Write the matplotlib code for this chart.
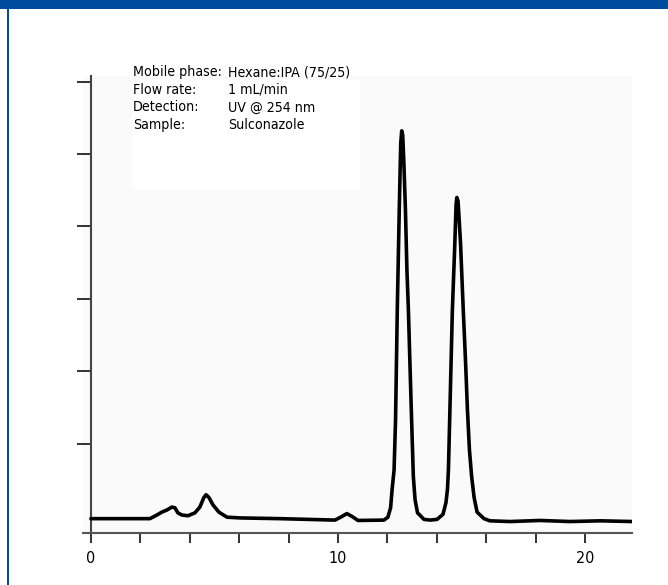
import matplotlib
matplotlib.use('Agg')
import matplotlib.pyplot as plt
from matplotlib.patches import Rectangle

# chromatogram trace (time in min, signal in tick units)
time_min = [0.00, 1.00, 1.98, 2.39, 2.67, 2.87, 3.08, 3.28, 3.40, 3.52,
            3.68, 3.93, 4.21, 4.41, 4.57, 4.66, 4.78, 4.94, 5.18, 5.51,
            6.03, 7.65, 9.88, 10.16, 10.36, 10.57, 10.81,
            11.86, 12.02, 12.13, 12.19, 12.27, 12.33, 12.40, 12.48, 12.54, 12.58,
            12.62, 12.67, 12.73, 12.79, 12.85, 12.92, 12.98, 13.05, 13.12, 13.22,
            13.48, 13.73,
            14.01, 14.25, 14.37, 14.43, 14.47, 14.53, 14.63, 14.72, 14.78, 14.81,
            14.86, 14.96, 15.07, 15.16, 15.24, 15.32, 15.41, 15.51, 15.63, 15.91,
            16.15, 16.96, 18.18, 19.39, 20.61, 21.94]
signal = [-0.03, -0.03, -0.03, -0.03, 0.02, 0.06, 0.09, 0.13, 0.12, 0.05,
          0.02, 0.01, 0.05, 0.13, 0.26, 0.30, 0.26, 0.16, 0.06, -0.01,
          -0.02, -0.03, -0.05, 0.00, 0.04, 0.00, -0.055,
          -0.05, -0.01, 0.12, 0.37, 0.64, 1.33, 2.85, 4.23, 5.15, 5.32,
          5.26, 4.85, 4.23, 3.40, 2.85, 2.02, 1.33, 0.55, 0.23, 0.05,
          -0.04, -0.05,
          -0.04, 0.03, 0.19, 0.37, 0.64, 1.47, 2.85, 3.68, 4.30, 4.40,
          4.35, 3.77, 2.85, 2.16, 1.47, 0.92, 0.55, 0.26, 0.06, -0.03,
          -0.06, -0.07, -0.055, -0.07, -0.06, -0.07]

x_ticks = [0, 2, 4, 6, 8, 10, 12, 14, 16, 18, 20]
x_labels = ['0', '', '', '', '', '10', '', '', '', '', '20']
y_ticks = [1, 2, 3, 4, 5, 6]

info_keys = ['Mobile phase:', 'Flow rate:', 'Detection:', 'Sample:']
info_vals = ['Hexane:IPA (75/25)', '1 mL/min', 'UV @ 254 nm', 'Sulconazole']

font = dict(family='DejaVu Sans', stretch='condensed')
blue = '#004b9b'
W, H = 668, 585

fig = plt.figure(figsize=(W / 100, H / 100), dpi=100)
ax = fig.add_axes([83 / W, 52 / H, 549 / W, 457 / H])
ax.set_facecolor('#fafafa')

# white box behind the run conditions
ax.add_patch(Rectangle((132 / W, (H - 190) / H), 228 / W, 110 / H,
                       transform=fig.transFigure, facecolor='white',
                       edgecolor='none', zorder=0.5))

ax.plot(time_min, signal, color='black', lw=2.6,
        solid_joinstyle='round', solid_capstyle='round', zorder=3)

ax.set_xlim(-0.32, 21.9)
ax.set_ylim(-0.228, 6.076)

for s in ['top', 'right']:
    ax.spines[s].set_visible(False)
ax.spines['left'].set_position(('data', 0))
ax.spines['left'].set_color('#444444')
ax.spines['bottom'].set_color('#555555')
ax.spines['left'].set_linewidth(1.5)
ax.spines['bottom'].set_linewidth(1.5)

ax.set_xticks(x_ticks)
ax.set_xticklabels(x_labels, fontsize=11.5, **font)
ax.set_yticks(y_ticks)
ax.set_yticklabels([])
ax.tick_params(axis='x', direction='out', length=7, width=1.3, color='#222222', pad=6)
ax.tick_params(axis='y', direction='out', length=10, width=1.3, color='#222222')

baselines = [76, 93.7, 111.4, 129]
for key, val, b in zip(info_keys, info_vals, baselines):
    fig.text(133 / W, 1 - b / H, key, fontsize=10.2, va='baseline', **font)
    fig.text(228 / W, 1 - b / H, val, fontsize=10.2, va='baseline', **font)

# blue frame: top bar and left rule
fig.patches.append(Rectangle((0, 1 - 9 / H), 1, 9 / H, transform=fig.transFigure,
                             facecolor=blue, edgecolor='none', figure=fig))
fig.patches.append(Rectangle((6.8 / W, 0), 2.2 / W, 1, transform=fig.transFigure,
                             facecolor=blue, edgecolor='none', figure=fig))

fig.savefig('out.png', dpi=100)
